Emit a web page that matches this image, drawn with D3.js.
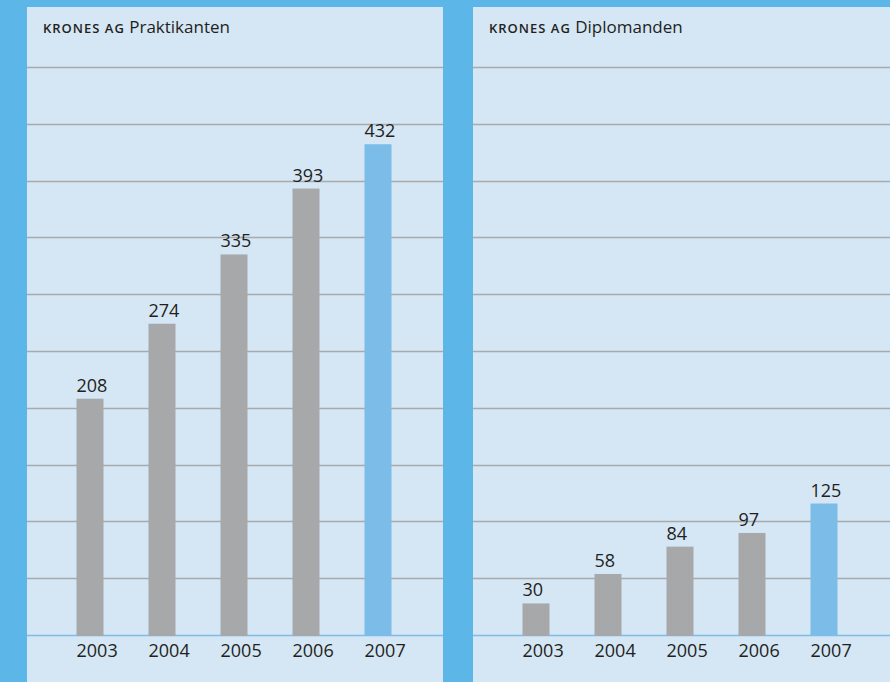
<!DOCTYPE html>
<html>
<head>
<meta charset="utf-8">
<style>
  body { margin: 0; background: #5db6e8; }
  svg { display: block; }
</style>
</head>
<body>
<svg id="chart" width="890" height="682"></svg>
<script src="https://cdn.jsdelivr.net/npm/d3@7"></script>
<script>
// data
var years = ["2003", "2004", "2005", "2006", "2007"];
var praktikanten = [208, 274, 335, 393, 432];
var diplomanden = [30, 58, 84, 97, 125];
var titles = ["Praktikanten", "Diplomanden"];

var svg = d3.select("#chart");

svg.append("rect")
    .attr("width", 890).attr("height", 682)
    .attr("fill", "#5db6e8");

drawPanel(27, 416, titles[0], praktikanten, 500);
drawPanel(473, 417, titles[1], diplomanden, 540);

function drawPanel(x0, w, title, values, yMax) {
  var g = svg.append("g").attr("transform", "translate(" + x0 + ",0)");

  g.append("rect")
      .attr("y", 7)
      .attr("width", w)
      .attr("height", 675)
      .attr("fill", "#d5e6f5");

  var x = d3.scaleBand()
      .domain(years)
      .range([27, 387])
      .paddingInner(0.625)
      .paddingOuter(0.3125);

  var y = d3.scaleLinear()
      .domain([0, yMax])
      .range([635, 67]);

  // gridlines, 10 steps up from the baseline
  var grid = d3.range(1, 11).map(function(i) { return i * yMax / 10; });
  g.selectAll(".grid")
    .data(grid)
    .enter().append("line")
      .attr("class", "grid")
      .attr("x1", 0).attr("x2", w)
      .attr("y1", function(d) { return Math.round(y(d)) + 0.5; })
      .attr("y2", function(d) { return Math.round(y(d)) + 0.5; })
      .attr("stroke", "#a9aaac")
      .attr("stroke-width", 1.5);

  g.append("line")
      .attr("x1", 0).attr("x2", w)
      .attr("y1", y(0) + 0.5).attr("y2", y(0) + 0.5)
      .attr("stroke", "#7ebde8")
      .attr("stroke-width", 1.5);

  g.selectAll(".bar")
    .data(values)
    .enter().append("rect")
      .attr("class", "bar")
      .attr("x", function(d, i) { return x(years[i]); })
      .attr("y", function(d) { return y(d); })
      .attr("width", x.bandwidth())
      .attr("height", function(d) { return y(0) - y(d) + 1; })
      .attr("fill", function(d, i) { return i == years.length - 1 ? "#7bbde8" : "#a7a8aa"; });

  // labels sit flush with the left edge of each bar
  g.selectAll(".val")
    .data(values)
    .enter().append("text")
      .attr("class", "val")
      .attr("x", function(d, i) { return x(years[i]); })
      .attr("y", function(d) { return y(d) - 7; })
      .attr("font-family", "Open Sans")
      .attr("font-size", 18)
      .attr("fill", "#231f20")
      .text(function(d) { return d; });

  g.selectAll(".yr")
    .data(years)
    .enter().append("text")
      .attr("class", "yr")
      .attr("x", function(d) { return x(d); })
      .attr("y", 657)
      .attr("font-family", "Open Sans")
      .attr("font-size", 18)
      .attr("fill", "#231f20")
      .text(function(d) { return d; });

  var t = g.append("text")
      .attr("x", 16)
      .attr("y", 33)
      .attr("font-family", "Open Sans")
      .attr("fill", "#231f20");
  t.append("tspan")
      .attr("font-size", 13)
      .attr("font-weight", 600)
      .attr("letter-spacing", 1)
      .text("KRONES AG ");
  t.append("tspan")
      .attr("font-size", 17)
      .text(title);
}
</script>
</body>
</html>
